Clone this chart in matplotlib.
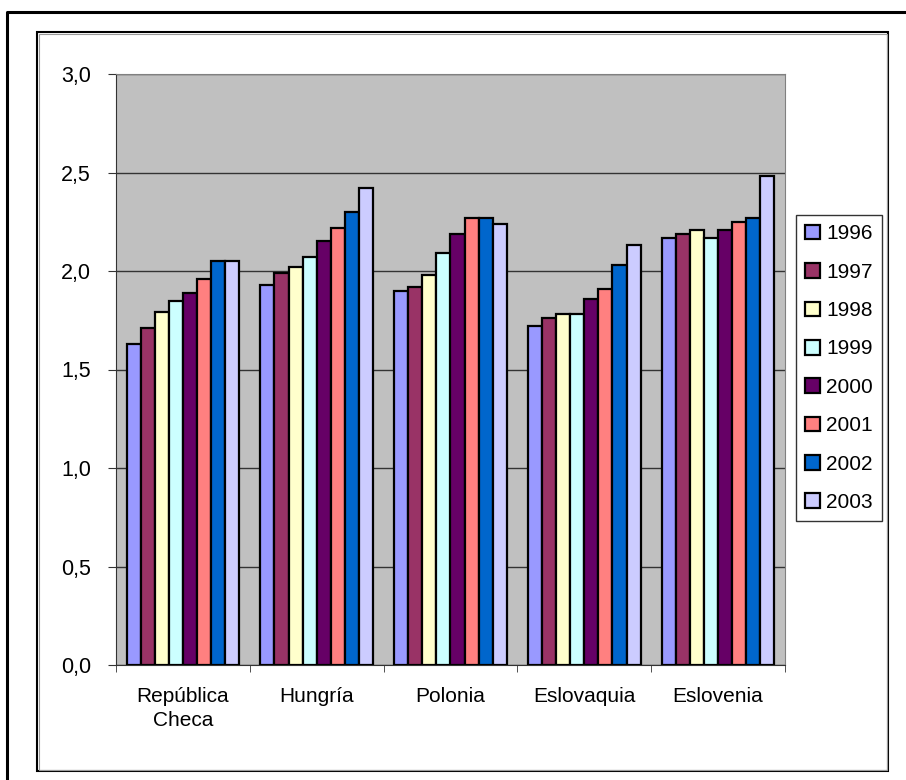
import matplotlib
matplotlib.use("Agg")
import matplotlib.pyplot as plt
import numpy as np
from matplotlib.lines import Line2D
from matplotlib.patches import Rectangle
from matplotlib.ticker import FixedLocator, FuncFormatter

plt.rcParams["font.family"] = ["Liberation Sans", "DejaVu Sans"]

paises = ["República\nCheca", "Hungría", "Polonia", "Eslovaquia", "Eslovenia"]
anios = ["1996", "1997", "1998", "1999", "2000", "2001", "2002", "2003"]
colores = ["#9999FF", "#993366", "#FFFFCC", "#CCFFFF",
           "#660066", "#FF8080", "#0066CC", "#CCCCFF"]

# una lista por año, un valor por país
valores = {
    "1996": [1.63, 1.93, 1.90, 1.72, 2.17],
    "1997": [1.71, 1.99, 1.92, 1.76, 2.19],
    "1998": [1.79, 2.02, 1.98, 1.78, 2.21],
    "1999": [1.85, 2.07, 2.09, 1.78, 2.17],
    "2000": [1.89, 2.15, 2.19, 1.86, 2.21],
    "2001": [1.96, 2.22, 2.27, 1.91, 2.25],
    "2002": [2.05, 2.30, 2.27, 2.03, 2.27],
    "2003": [2.05, 2.42, 2.24, 2.13, 2.48],
}

W, H = 906, 780
fig = plt.figure(figsize=(W / 100, H / 100), dpi=100)

# marco exterior (solo izquierda y arriba quedan dentro de la imagen)
fig.add_artist(Line2D([7 / W, 7 / W, 1], [0, 1 - 12 / H, 1 - 12 / H],
                      transform=fig.transFigure, color="black", linewidth=2.2))
# marco del gráfico con sombra gris
fig.patches.append(Rectangle((37 / W, 1 - 771 / H), 851 / W, 739 / H,
                             transform=fig.transFigure, fill=False,
                             edgecolor="black", linewidth=1.5))
fig.patches.append(Rectangle((38.5 / W, 1 - 769.5 / H), 848 / W, 736 / H,
                             transform=fig.transFigure, fill=False,
                             edgecolor="#9a9a9a", linewidth=0.8))

ax = fig.add_axes([116 / W, 1 - 665 / H, 669 / W, 591 / H])
ax.set_facecolor("#C0C0C0")

x = np.arange(len(paises))
ancho = 1 / 9.5
for i, anio in enumerate(anios):
    ax.bar(x - 3.5 * ancho + i * ancho, valores[anio], width=ancho,
           color=colores[i], edgecolor="black", linewidth=1.6,
           label=anio, zorder=3)

ax.set_xlim(-0.5, len(paises) - 0.5)
ax.set_ylim(0, 3.0)
ax.set_yticks(np.arange(0, 3.01, 0.5))
ax.yaxis.set_major_formatter(FuncFormatter(lambda v, p: f"{v:.1f}".replace(".", ",")))
ax.yaxis.grid(True, color="#333333", linewidth=1.0, zorder=1)

ax.set_xticks(x)
ax.set_xticklabels(paises, fontsize=15, linespacing=1.35)
ax.xaxis.set_minor_locator(FixedLocator(np.arange(-0.5, len(paises), 1)))
ax.tick_params(axis="x", which="major", length=0, pad=16)
ax.tick_params(axis="x", which="minor", length=5, direction="out", color="#333333")
ax.tick_params(axis="y", length=6, direction="out", labelsize=15.5, pad=12, color="#333333")

for lado in ["top", "right"]:
    ax.spines[lado].set_color("#808080")
for lado in ["left", "bottom"]:
    ax.spines[lado].set_color("#333333")

leg = fig.legend(loc="upper left", bbox_to_anchor=(796 / W, 1 - 215 / H),
                 fontsize=15, frameon=True, fancybox=False, edgecolor="black",
                 handlelength=0.7, handleheight=0.7, handletextpad=0.3,
                 labelspacing=0.93, borderpad=0.45, borderaxespad=0)
leg.get_frame().set_linewidth(1.0)

fig.savefig("out.png", dpi=100)
